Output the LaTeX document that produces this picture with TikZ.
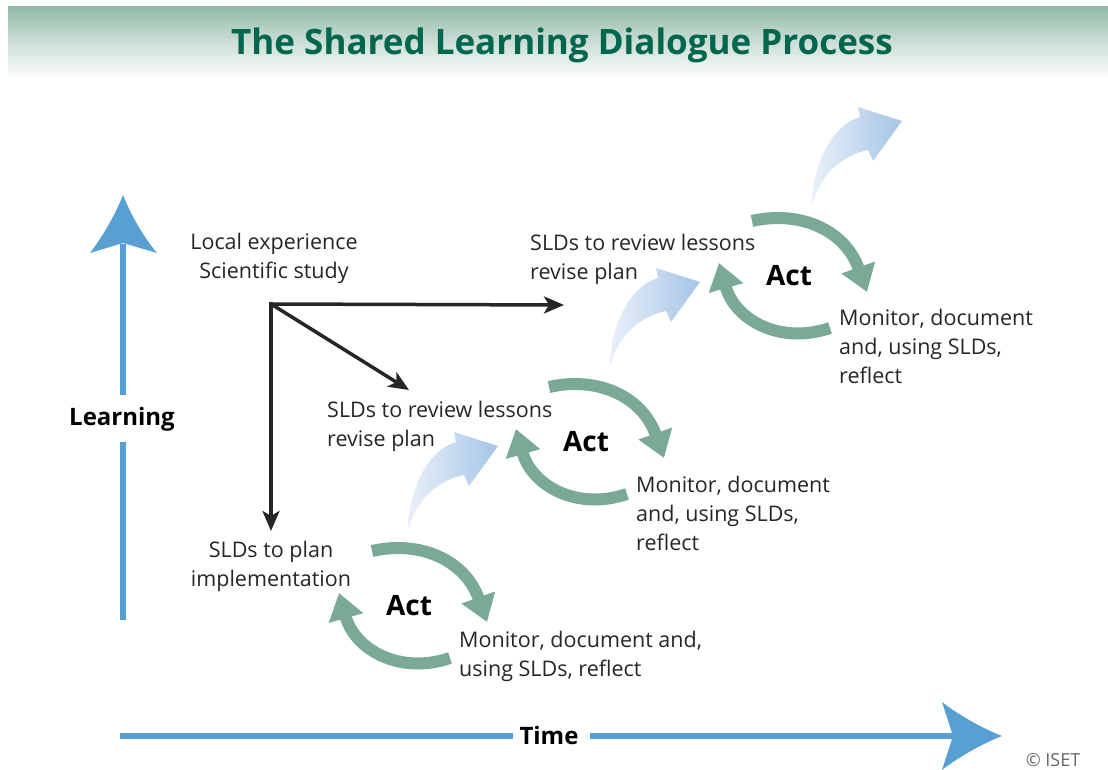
\documentclass[tikz,border=0pt]{standalone}
\usepackage{fontspec}
\setmainfont{Open Sans}
\usetikzlibrary{arrows.meta}
\definecolor{ttl}{RGB}{0,102,77}
\definecolor{band}{RGB}{146,186,168}
\definecolor{cyc}{RGB}{122,170,150}
\definecolor{axisblue}{RGB}{88,160,212}
\definecolor{lbA}{RGB}{234,240,249}
\definecolor{lbB}{RGB}{164,197,230}
\begin{document}
\begin{tikzpicture}[x=1pt,y=-1pt,
  txt/.style={inner sep=0pt, font=\fontsize{21.5}{29}\selectfont, text=black!85, align=left},
  actlab/.style={inner sep=0pt, font=\fontsize{28}{32}\selectfont\bfseries},
  axlab/.style={inner sep=0pt, font=\fontsize{24}{28}\selectfont\bfseries},
  blk/.style={line width=3.5pt, draw=black!85, -{Stealth[length=20pt,width=17pt,inset=5pt]}},
  cycarrow/.style={line width=12pt, draw=cyc, -{Triangle[length=26pt,width=34pt]}},
  axline/.style={line width=6.5pt, draw=axisblue},
  liftarrow/.style={left color=lbA, right color=lbB, draw=none},
]
\useasboundingbox (0,0) rectangle (1108,770);
% banner
\shade[top color=band, bottom color=white, middle color=band!45] (8,7) rectangle (1108,80);
\node[inner sep=0pt, font=\fontsize{35}{40}\selectfont\bfseries, text=ttl] (title) at (562,45)
  {The Shared Learning Dialogue Process};

% Learning axis
\node[axlab] (learn) at (122,419) {Learning};
\coordinate (lbot) at (123,620);
\coordinate (lgapb) at (123,442);
\coordinate (lgapt) at (123,395);
\coordinate (lneck) at (123,244);
\draw[axline] (lbot) -- (lgapb);
\draw[axline] (lgapt) -- (lneck);
\fill[axisblue] (123,195) .. controls (132,218) and (146,240) .. (157,253) -- (123,243) -- (90,253)
  .. controls (100,240) and (114,218) .. (123,195) -- cycle;

% Time axis
\node[axlab] (time) at (549,735) {Time};
\coordinate (tleft) at (120,736);
\coordinate (tgapl) at (513,736);
\coordinate (tgapr) at (590,736);
\coordinate (tneck) at (954,736);
\draw[axline] (tleft) -- (tgapl);
\draw[axline] (tgapr) -- (tneck);
\fill[axisblue] (1002,736) .. controls (979,727) and (956,713) .. (942,702) -- (953,736) -- (942,770)
  .. controls (956,759) and (979,745) .. (1002,736) -- cycle;

\node[inner sep=0pt, font=\fontsize{18}{20}\selectfont, text=black!60] (cp) at (1053,760) {© ISET};

% texts
\node[txt, align=center] (src) at (274,258) {Local experience\\Scientific study};
\node[txt, anchor=west] (rev3) at (530,259) {SLDs to review lessons\\revise plan};
\node[txt, anchor=west] (rev2) at (327,426) {SLDs to review lessons\\revise plan};
\node[txt, align=center] (plan) at (271,566) {SLDs to plan\\implementation};
\node[txt, anchor=west] (mon1) at (459,656) {Monitor, document and,\\using SLDs, reflect};
\node[txt, anchor=west] (mon2) at (636,513) {Monitor, document\\and, using SLDs,\\reflect};
\node[txt, anchor=west] (mon3) at (839,346) {Monitor, document\\and, using SLDs,\\reflect};

\node[actlab] (act1) at (409,606) {Act};
\node[actlab] (act2) at (586,442) {Act};
\node[actlab] (act3) at (789,276) {Act};

% black arrows
\coordinate (corner) at (271,304);
\coordinate (endA) at (564,305);
\coordinate (endB) at (409,390);
\coordinate (endC) at (271,531);
\draw[blk] ([xshift=-1.75pt]corner) -- (endA);
\draw[blk] (corner) -- (endB);
\draw[blk] ([yshift=1.75pt]corner) -- (endC);

% cycles
\foreach \a in {act1,act2,act3}{
  \draw[cycarrow] ([shift={(-37,-55)}]\a.center) .. controls ([shift={(11,-66)}]\a.center)
     and ([shift={(56,-46)}]\a.center) .. ([shift={(78,16)}]\a.center);
  \draw[cycarrow] ([shift={(41,52)}]\a.center) .. controls ([shift={(-9,69)}]\a.center)
     and ([shift={(-54,44)}]\a.center) .. ([shift={(-70,-13)}]\a.center);
}

% light blue lift arrows
\coordinate (lift1) at (408,530);
\coordinate (lift2) at (610,366);
\coordinate (lift3) at (812,205);
\foreach \t in {lift1,lift2,lift3}{
  \shade[liftarrow] (\t) .. controls ([shift={(0,-40)}]\t) and ([shift={(20,-80)}]\t) .. ([shift={(48,-88)}]\t)
    -- ([shift={(46,-98)}]\t) -- ([shift={(90,-84)}]\t) -- ([shift={(61,-44)}]\t) -- ([shift={(56,-55)}]\t)
    .. controls ([shift={(30,-50)}]\t) and ([shift={(8,-30)}]\t) .. (\t) -- cycle;
}
\end{tikzpicture}
\end{document}
